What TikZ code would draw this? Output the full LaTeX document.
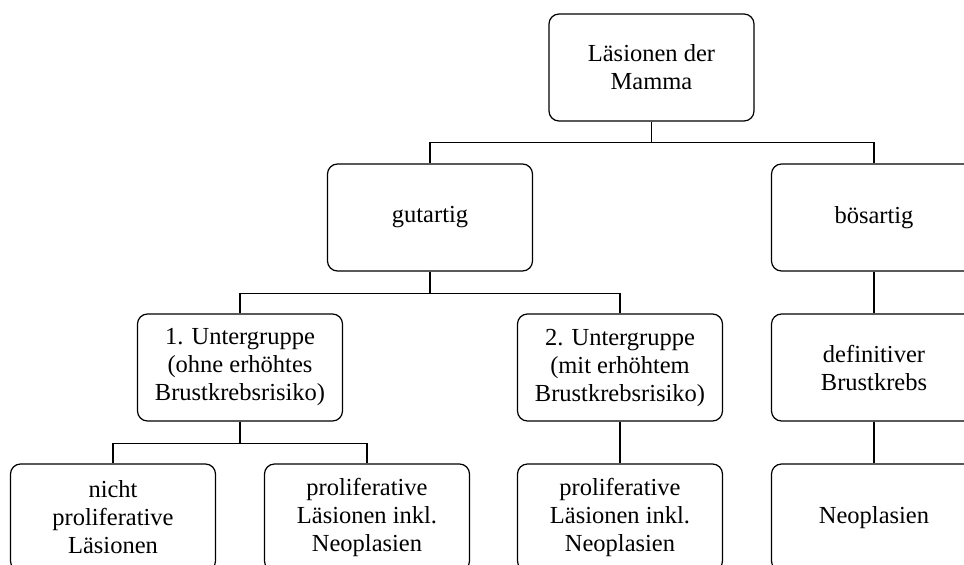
\documentclass[tikz,border=0pt]{standalone}
\usepackage{fontspec}
\setmainfont{Liberation Serif}
\usepackage{tikz}
\usetikzlibrary{positioning}

\begin{document}
\begin{tikzpicture}[x=1pt, y=-1pt,
    box/.style={draw, line width=1.2pt, rounded corners=10pt, minimum width=205pt,
        minimum height=107pt, align=center, inner sep=0pt,
        font=\fontsize{24.5}{28}\selectfont},
    link/.style={line width=1.2pt}]
    % Rahmen
    \useasboundingbox (0,0) rectangle (964,565);
    \clip (0,0) rectangle (964,565);

    % Ebene 1
    \node[box] (mamma) at (651.5, 67.5) {Läsionen der\\Mamma};

    % Ebene 2
    \node[box] (gut) at (430, 217.5) {gutartig};
    \node[box] (boes) at (874, 217.5) {bösartig};

    % Ebene 3
    \node[box] (ugA) at (240, 367.5) {1. Untergruppe\\(ohne erhöhtes\\Brustkrebsrisiko)};
    \node[box] (ugB) at (620, 367.5) {2. Untergruppe\\(mit erhöhtem\\Brustkrebsrisiko)};
    \node[box] (def) at (874, 367.5) {definitiver\\Brustkrebs};

    % Ebene 4 (unten abgeschnitten)
    \node[box] (nprol) at (113, 517.5) {nicht\\proliferative\\Läsionen};
    \node[box] (prolA) at (367, 517.5) {proliferative\\Läsionen inkl.\\Neoplasien};
    \node[box] (prolB) at (620, 517.5) {proliferative\\Läsionen inkl.\\Neoplasien};
    \node[box] (neo) at (874, 517.5) {Neoplasien};

    % Verbindungen
    \draw[link] (mamma.south) -- ++(0,21) -| (gut.north);
    \draw[link] (mamma.south) -- ++(0,21) -| (boes.north);
    \draw[link] (gut.south) -- ++(0,22) -| (ugA.north);
    \draw[link] (gut.south) -- ++(0,22) -| (ugB.north);
    \draw[link] (boes) -- (def);
    \draw[link] (ugA.south) -- ++(0,22) -| (nprol.north);
    \draw[link] (ugA.south) -- ++(0,22) -| (prolA.north);
    \draw[link] (ugB) -- (prolB);
    \draw[link] (def) -- (neo);
\end{tikzpicture}
\end{document}
